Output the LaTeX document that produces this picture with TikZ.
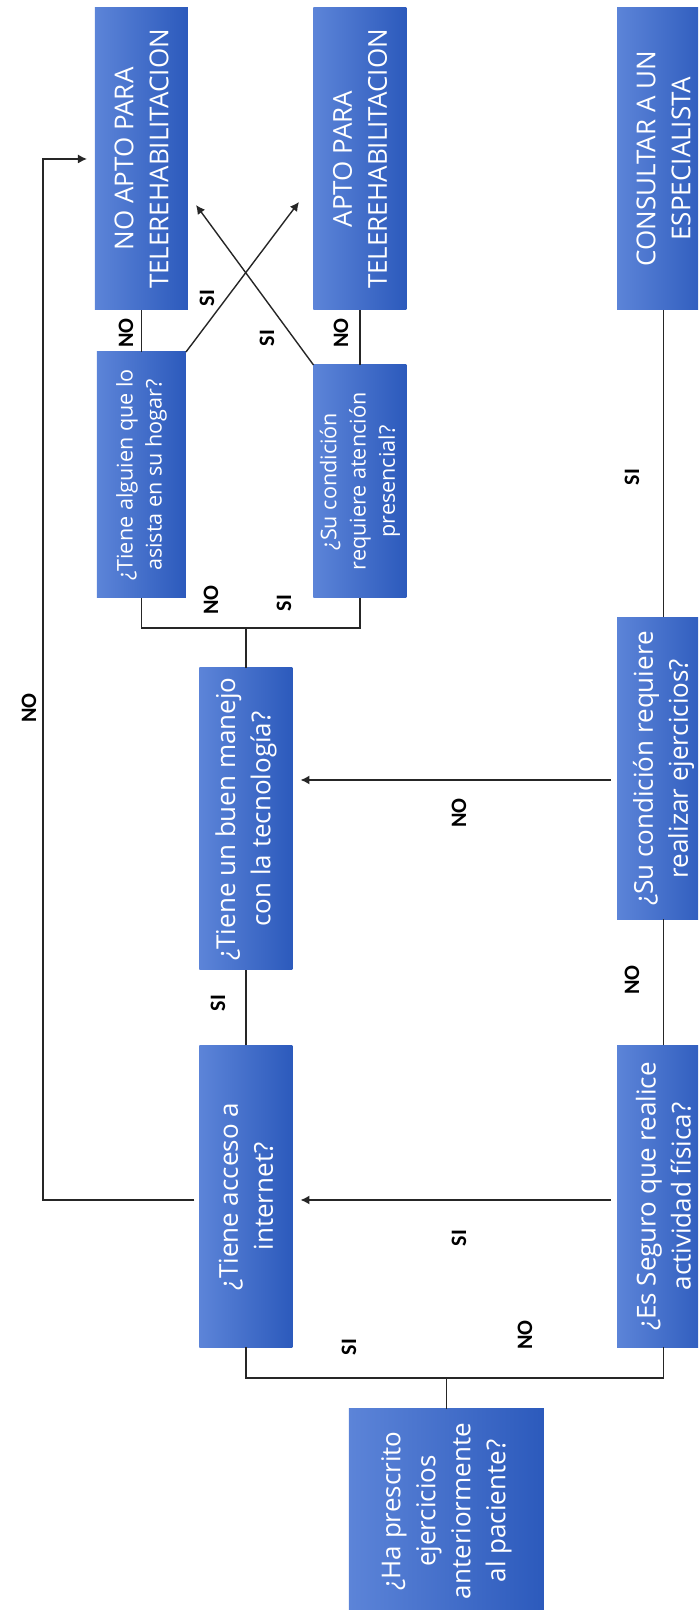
\documentclass[tikz,border=0pt]{standalone}
\usepackage{fontspec}
\setmainfont{Open Sans}
\newfontfamily\lblfont{Carlito}
\usetikzlibrary{arrows.meta}
\definecolor{boxlight}{RGB}{92,132,216}
\definecolor{boxdark}{RGB}{44,90,188}
\begin{document}
\begin{tikzpicture}[x=0.5pt, y=0.5pt,
	box/.style={left color=boxlight, right color=boxdark, text=white, align=center,
		inner sep=0pt, outer sep=0pt, minimum width=151pt, minimum height=46.5pt,
		font=\fontsize{13}{17.5}\selectfont},
	smallbox/.style={box, font=\fontsize{10.8}{14.6}\selectfont},
	lbl/.style={font=\fontsize{11}{13}\lblfont\bfseries},
	line/.style={line width=0.7pt, black!85},
	arr/.style={line, -{Latex[length=4.5pt,width=4.5pt]}, shorten >=4pt, shorten <=3pt}]
	\begin{scope}[rotate=90, transform shape]
	\useasboundingbox (0,0) rectangle (1610,698);
	\clip (0,0) rectangle (1610,698);
	
	%questions
	\node[box, minimum width=102pt, minimum height=97.5pt] (start) at (99,251.5) {¿Ha prescrito\\ejercicios\\anteriormente\\al paciente?};
	\node[box] (acceso) at (413.5,452) {¿Tiene acceso a\\internet?};
	\node[box] (seguro) at (413.5,34.5) {¿Es Seguro que realice\\actividad física?};
	\node[box] (tech) at (791,452) {¿Tiene un buen manejo\\con la tecnología?};
	\node[box] (realizar) at (841.5,34.5) {¿Su condición requiere\\realizar ejercicios?};
	\node[smallbox, minimum width=123pt, minimum height=44.5pt] (alguien) at (1135,556.5) {¿Tiene alguien que lo\\asista en su hogar?};
	\node[smallbox, minimum width=116.5pt] (presencial) at (1128.5,338) {¿Su condición\\requiere atención\\presencial?};
	
	%results
	\node[box] (noapto) at (1451,556.5) {NO APTO PARA\\TELEREHABILITACION};
	\node[box] (apto) at (1451,338) {APTO PARA\\TELEREHABILITACION};
	\node[box] (consultar) at (1451,34.5) {CONSULTAR A UN\\ESPECIALISTA};
	
	\coordinate (j1) at (232,251.5);
	\coordinate (j2) at (982,452);
	\coordinate (k1) at (830,0);
	\coordinate (k2) at (410,0);
	\coordinate (k3) at (0,655);
	\coordinate (c1) at (1408,399);
	\coordinate (c2) at (1405,502);
	
	%first split
	\draw[line] (start.east) -- (j1);
	\draw[line] (acceso.west) -- (acceso.west -| j1) -- (seguro.west -| j1) -- (seguro.west);
	\node[lbl] (l1) at (263,349) {SI};
	\node[lbl] (l2) at (275,173) {NO};
	
	\draw[line] (acceso.east) -- (tech.west);
	\node[lbl] (l3) at (607,480) {SI};
	\draw[line] (seguro.east) -- (realizar.west);
	\node[lbl] (l4) at (630,66) {NO};
	\draw[arr] (seguro.north -| k2) -- (acceso.south -| k2);
	\node[lbl] (l5) at (372,239) {SI};
	\draw[arr] (realizar.north -| k1) -- (tech.south -| k1);
	\node[lbl] (l6) at (797,239) {NO};
	\draw[line] (realizar.east) -- (consultar.west);
	\node[lbl] (l14) at (1133,66) {SI};
	
	%no internet
	\draw[arr, shorten <=2.5pt] (acceso.north -| k2) -- (k2 |- k3) -- (k3 -| noapto.north) -- (noapto.north);
	\node[lbl] (l13) at (902,669) {NO};
	
	%second split
	\draw[line] (tech.east) -- (j2);
	\draw[line] (alguien.west) -- (alguien.west -| j2) -- (presencial.west -| j2) -- (presencial.west);
	\node[lbl] (l7) at (1010,487) {NO};
	\node[lbl] (l8) at (1007,414) {SI};
	
	\draw[line] (alguien.east) -- (noapto.west);
	\node[lbl] (l9) at (1277,572) {NO};
	\draw[line] (presencial.east) -- (apto.west);
	\node[lbl] (l10) at (1277,357) {NO};
	
	%crossing
	\draw[arr, shorten >=0pt, shorten <=0pt] (alguien.south east) -- (c1);
	\node[lbl] (l11) at (1312,491) {SI};
	\draw[arr, shorten >=0pt, shorten <=0pt] (presencial.north east) -- (c2);
	\node[lbl] (l12) at (1272,431) {SI};
	\end{scope}
\end{tikzpicture}
\end{document}
